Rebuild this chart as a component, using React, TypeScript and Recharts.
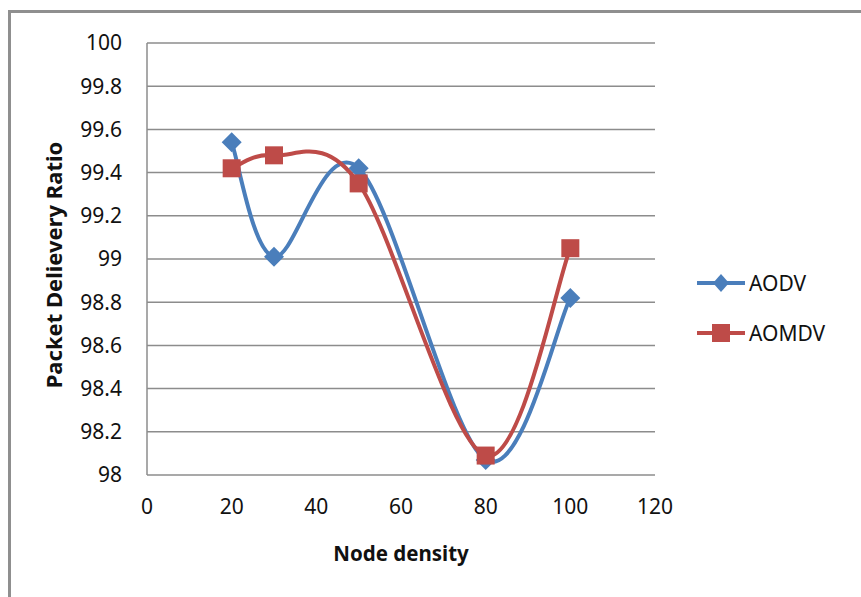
import React from "react"
import { LineChart, Line, XAxis, YAxis, CartesianGrid, Label } from "recharts"

const nodeDensity = [20, 30, 50, 80, 100]
const aodv = [99.54, 99.01, 99.42, 98.07, 98.82]
const aomdv = [99.42, 99.48, 99.35, 98.09, 99.05]
const xTicks = [0, 20, 40, 60, 80, 100, 120]
const yTicks = [98, 98.2, 98.4, 98.6, 98.8, 99, 99.2, 99.4, 99.6, 99.8, 100]

const BLUE = "#4a7ebb"
const RED = "#be4b48"
const GRID = "#8c8c8c"
const FONT = "'Noto Sans', 'Open Sans', sans-serif"

const data = nodeDensity.map((x, i) => ({ x, aodv: aodv[i], aomdv: aomdv[i] }))

// Excel-like smoothed line (Catmull-Rom converted to bezier segments)
const excelSmooth = (context: any) => {
  let pts: [number, number][] = []
  return {
    areaStart() {},
    areaEnd() {},
    lineStart() {
      pts = []
    },
    point(x: number, y: number) {
      pts.push([+x, +y])
    },
    lineEnd() {
      if (!pts.length) return
      context.moveTo(pts[0][0], pts[0][1])
      for (let i = 0; i < pts.length - 1; i++) {
        const p0 = pts[i - 1] || pts[i]
        const p1 = pts[i]
        const p2 = pts[i + 1]
        const p3 = pts[i + 2] || p2
        context.bezierCurveTo(
          p1[0] + (p2[0] - p0[0]) / 6,
          p1[1] + (p2[1] - p0[1]) / 6,
          p2[0] - (p3[0] - p1[0]) / 6,
          p2[1] - (p3[1] - p1[1]) / 6,
          p2[0],
          p2[1]
        )
      }
    },
  }
}

const Diamond = (props: any) => {
  const { cx, cy, index } = props
  if (cx == null || cy == null) return null
  const r = 10
  return (
    <path
      key={`d-${index}`}
      d={`M${cx},${cy - r}L${cx + r},${cy}L${cx},${cy + r}L${cx - r},${cy}Z`}
      fill={BLUE}
    />
  )
}

const Square = (props: any) => {
  const { cx, cy, index } = props
  if (cx == null || cy == null) return null
  const s = 9
  return <rect key={`s-${index}`} x={cx - s} y={cy - s} width={s * 2} height={s * 2} fill={RED} />
}

function LegendItem({ name, color, square }: { name: string; color: string; square?: boolean }) {
  return (
    <div style={{ display: "flex", alignItems: "center", height: 50 }}>
      <svg width={52} height={24}>
        <line x1={2} y1={12} x2={50} y2={12} stroke={color} strokeWidth={4} />
        {square ? (
          <rect x={17} y={3} width={18} height={18} fill={color} />
        ) : (
          <path d="M26,3L34,12L26,21L18,12Z" fill={color} />
        )}
      </svg>
      <span style={{ fontFamily: FONT, fontSize: 21, color: "#111", marginLeft: 2 }}>{name}</span>
    </div>
  )
}

export default function App() {
  return (
    <div style={{ position: "absolute", left: 0, top: 0, width: 861, height: 597, background: "#fff" }}>
      <div
        style={{
          position: "absolute",
          left: 8,
          top: 10,
          width: 853,
          height: 587,
          borderTop: "3px solid #8f8f8f",
          borderLeft: "3px solid #8f8f8f",
          boxSizing: "border-box",
        }}
      />
      <div style={{ position: "absolute", left: 0, top: 0 }}>
        <LineChart width={861} height={597} data={data} margin={{ top: 43, right: 206, left: 0, bottom: 0 }}>
          <CartesianGrid vertical={false} stroke={GRID} strokeWidth={1.5} />
          <XAxis
            dataKey="x"
            type="number"
            domain={[0, 120]}
            ticks={xTicks}
            height={122}
            axisLine={false}
            tickLine={false}
            tickSize={0}
            tickMargin={24}
            tick={{ fill: "#111", fontSize: 21, fontFamily: FONT }}
            interval={0}
          >
            <Label
              content={(p: any) => {
                const vb = p.viewBox || {}
                return (
                  <text
                    x={vb.x + vb.width / 2}
                    y={vb.y + 80}
                    textAnchor="middle"
                    dominantBaseline="middle"
                    fontFamily={FONT}
                    fontSize={20.5}
                    fontWeight="bold"
                    fill="#111"
                  >
                    Node density
                  </text>
                )
              }}
            />
          </XAxis>
          <YAxis
            type="number"
            domain={[98, 100]}
            ticks={yTicks}
            width={147}
            axisLine={{ stroke: GRID, strokeWidth: 1.5 }}
            tickLine={false}
            tickSize={0}
            tickMargin={25}
            tick={{ fill: "#111", fontSize: 21, fontFamily: FONT }}
            interval={0}
          >
            <Label
              content={(p: any) => {
                const vb = p.viewBox || {}
                const cx = vb.x + 56
                const cy = vb.y + vb.height / 2 + 6
                return (
                  <text
                    x={cx}
                    y={cy}
                    transform={`rotate(-90 ${cx} ${cy})`}
                    textAnchor="middle"
                    dominantBaseline="middle"
                    fontFamily={FONT}
                    fontSize={22}
                    fontWeight="bold"
                    fill="#111"
                  >
                    Packet Delievery Ratio
                  </text>
                )
              }}
            />
          </YAxis>
          <Line
            dataKey="aodv"
            name="AODV"
            type={excelSmooth as any}
            stroke={BLUE}
            strokeWidth={4}
            dot={Diamond}
            activeDot={false}
            isAnimationActive={false}
          />
          <Line
            dataKey="aomdv"
            name="AOMDV"
            type={excelSmooth as any}
            stroke={RED}
            strokeWidth={4}
            dot={Square}
            activeDot={false}
            isAnimationActive={false}
          />
        </LineChart>
      </div>
      <div style={{ position: "absolute", left: 695, top: 258 }}>
        <LegendItem name="AODV" color={BLUE} />
        <LegendItem name="AOMDV" color={RED} square />
      </div>
    </div>
  )
}
